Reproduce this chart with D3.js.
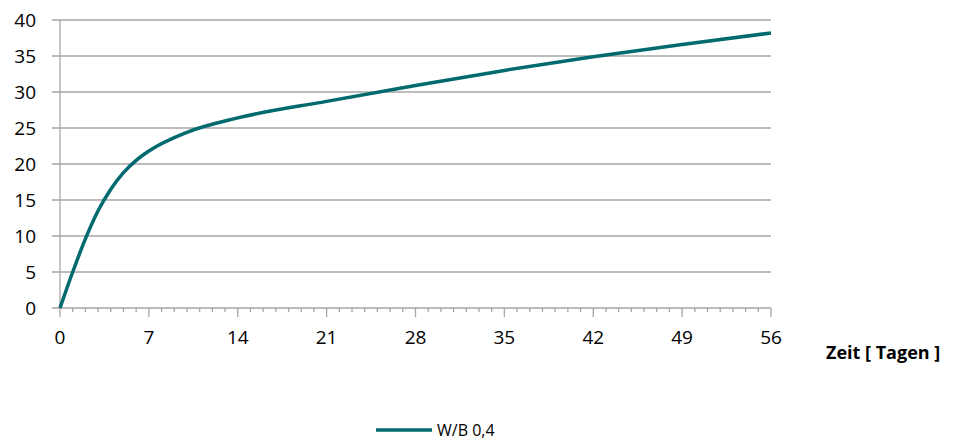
<!DOCTYPE html>
<html>
<head>
<meta charset="utf-8">
<script src="https://cdn.jsdelivr.net/npm/d3@7"></script>
<style>
  body { margin: 0; background: #fff; }
  text { font-family: "Open Sans", "Noto Sans", sans-serif; fill: #000; }
</style>
</head>
<body>
<div class="line-chart"></div>
<script>
// data
const days = [0, 1, 2, 3, 4, 5, 6, 7, 10, 14, 21, 28, 35, 42, 49, 56];
const strength = [0, 5.0, 9.6, 13.5, 16.5, 18.8, 20.5, 21.8, 24.4, 26.4, 28.7, 30.9, 33.0, 34.9, 36.6, 38.2];
const xTicks = [0, 7, 14, 21, 28, 35, 42, 49, 56];
const yTicks = [0, 5, 10, 15, 20, 25, 30, 35, 40];
const seriesName = "W/B 0,4";
const xTitle = "Zeit [ Tagen ]";

const W = 969, H = 443;
const margin = {top: 20, right: 198, bottom: 135, left: 60};
const width = W - margin.left - margin.right;
const height = H - margin.top - margin.bottom;

const svg = d3.select(".line-chart")
    .append("svg")
    .attr("width", W)
    .attr("height", H);

const g = svg.append("g")
    .attr("transform", "translate(" + margin.left + "," + margin.top + ")");

let xScale = d3.scaleLinear().domain([0, 56]).range([0, width]);
let yScale = d3.scaleLinear().domain([0, 40]).range([height, 0]);

//GRIDLINES + Y LABELS
g.selectAll(".grid")
    .data(yTicks)
    .enter()
    .append("line")
    .attr("x1", -8)
    .attr("x2", width)
    .attr("y1", d => yScale(d))
    .attr("y2", d => yScale(d))
    .attr("stroke", "#a6a6a6")
    .attr("stroke-width", 1.3);

g.selectAll(".ylab")
    .data(yTicks)
    .enter()
    .append("text")
    .attr("x", -24)
    .attr("y", d => yScale(d))
    .attr("dy", "0.36em")
    .attr("text-anchor", "end")
    .style("font-size", "19px")
    .text(d => d);

//Y AXIS LINE
g.append("line")
    .attr("x1", 0).attr("x2", 0)
    .attr("y1", 0).attr("y2", height)
    .attr("stroke", "#a6a6a6")
    .attr("stroke-width", 1.3);

//X AXIS: minor ticks every day, major every 7
const minor = d3.range(0, 57);
g.selectAll(".minor")
    .data(minor)
    .enter()
    .append("line")
    .attr("x1", d => xScale(d))
    .attr("x2", d => xScale(d))
    .attr("y1", height)
    .attr("y2", d => height + (d % 7 === 0 ? 9 : 4))
    .attr("stroke", "#a6a6a6")
    .attr("stroke-width", 1.3);

g.selectAll(".xlab")
    .data(xTicks)
    .enter()
    .append("text")
    .attr("x", d => xScale(d))
    .attr("y", height + 36)
    .attr("text-anchor", "middle")
    .style("font-size", "19px")
    .text(d => d);

g.append("text")
    .attr("x", 766)
    .attr("y", height + 51)
    .style("font-size", "18px")
    .style("font-weight", "bold")
    .text(xTitle);

//LINE
const pts = days.map((d, i) => [d, strength[i]]);
const line = d3.line()
    .x(d => xScale(d[0]))
    .y(d => yScale(d[1]))
    .curve(d3.curveMonotoneX);

g.append("path")
    .datum(pts)
    .attr("d", line)
    .attr("fill", "none")
    .attr("stroke", "#006a6e")
    .attr("stroke-width", 3.5);

//LEGEND
svg.append("line")
    .attr("x1", 376).attr("x2", 432)
    .attr("y1", 430).attr("y2", 430)
    .attr("stroke", "#006a6e")
    .attr("stroke-width", 3.5);

svg.append("text")
    .attr("x", 437)
    .attr("y", 436)
    .style("font-size", "16px")
    .text(seriesName);
</script>
</body>
</html>
